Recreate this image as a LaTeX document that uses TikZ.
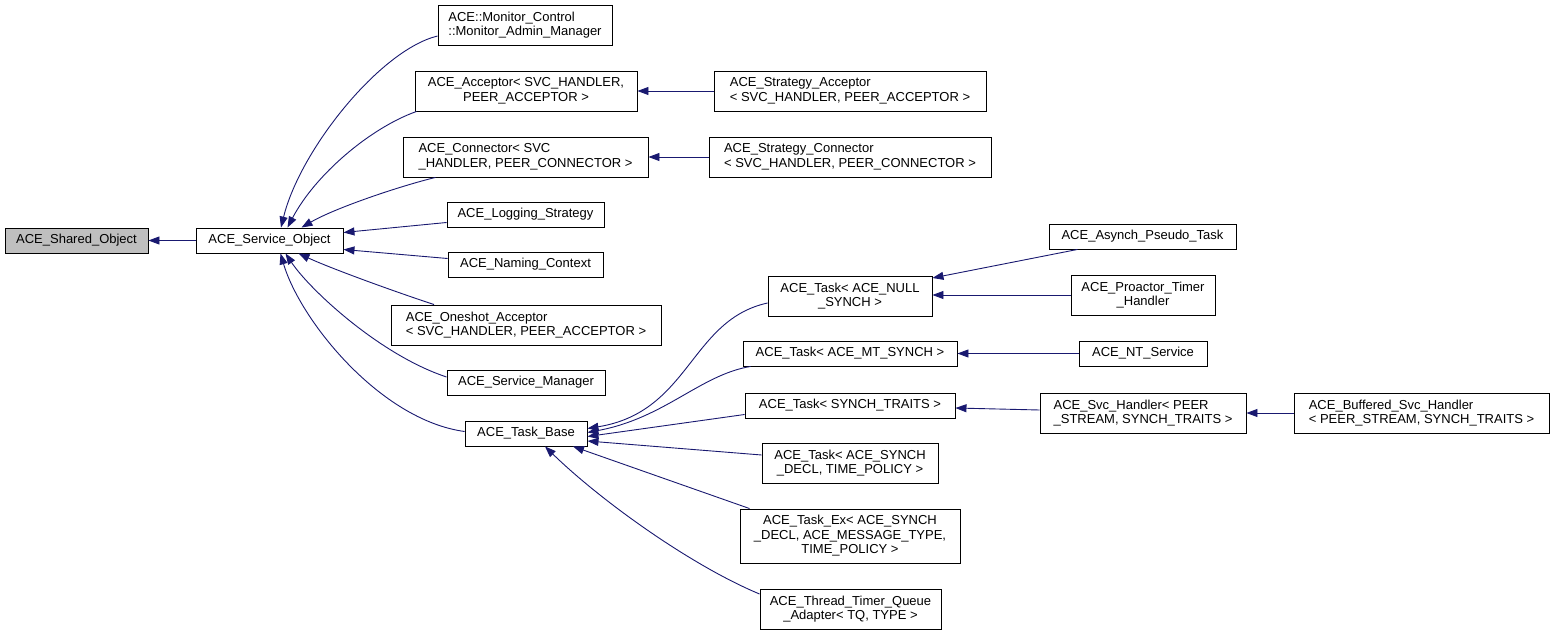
\documentclass[tikz,border=0pt]{standalone}
\usepackage{fontspec}
\setmainfont{Liberation Sans}
\usetikzlibrary{arrows.meta,calc}
\definecolor{edgeblue}{RGB}{25,25,112}
\definecolor{basegray}{RGB}{191,191,191}
\begin{document}
\begin{tikzpicture}[x=1pt,y=-1pt,
  box/.style={draw=black,line width=0.9pt,fill=white,inner xsep=2pt,inner ysep=1pt,
    font=\fontsize{13}{14.5}\selectfont,align=center},
  lbox/.style={box,align=left},
  edge/.style={draw=edgeblue,line width=0.9pt,-{Triangle[length=11pt,width=8pt]}}]
\useasboundingbox (0,0) rectangle (1555,636);
% nodes
\node[box,fill=basegray,minimum width=143,minimum height=25] (shared) at (76.5,240.5) {ACE\_Shared\_Object};
\node[box,minimum width=147,minimum height=25] (svc) at (269.5,240.5) {ACE\_Service\_Object};
\node[lbox,minimum width=174,minimum height=40] (mon) at (525,25) {ACE::Monitor\_Control\\::Monitor\_Admin\_Manager};
\node[box,minimum width=222,minimum height=40] (acc) at (526,91) {ACE\_Acceptor< SVC\_HANDLER,\\PEER\_ACCEPTOR >};
\node[lbox,minimum width=245,minimum height=40] (con) at (525.5,157) {ACE\_Connector< SVC\\\_HANDLER, PEER\_CONNECTOR >};
\node[box,minimum width=157,minimum height=25] (log) at (525.5,214.5) {ACE\_Logging\_Strategy};
\node[box,minimum width=155,minimum height=25] (nam) at (525.5,264.5) {ACE\_Naming\_Context};
\node[lbox,minimum width=270,minimum height=40] (one) at (526,325) {ACE\_Oneshot\_Acceptor\\< SVC\_HANDLER, PEER\_ACCEPTOR >};
\node[box,minimum width=158,minimum height=25] (mgr) at (526,382.5) {ACE\_Service\_Manager};
\node[box,minimum width=122,minimum height=25] (tb) at (526,433.5) {ACE\_Task\_Base};
\node[lbox,minimum width=272,minimum height=40] (sacc) at (850,91) {ACE\_Strategy\_Acceptor\\< SVC\_HANDLER, PEER\_ACCEPTOR >};
\node[lbox,minimum width=282,minimum height=40] (scon) at (850,157) {ACE\_Strategy\_Connector\\< SVC\_HANDLER, PEER\_CONNECTOR >};
\node[box,minimum width=164,minimum height=40] (null) at (850,296) {ACE\_Task< ACE\_NULL\\\_SYNCH >};
\node[box,minimum width=214,minimum height=25] (mt) at (850,353.5) {ACE\_Task< ACE\_MT\_SYNCH >};
\node[box,minimum width=210,minimum height=25] (st) at (850,405.5) {ACE\_Task< SYNCH\_TRAITS >};
\node[box,minimum width=176,minimum height=40] (decl) at (850,463) {ACE\_Task< ACE\_SYNCH\\\_DECL, TIME\_POLICY >};
\node[box,minimum width=220,minimum height=54] (ex) at (850,536) {ACE\_Task\_Ex< ACE\_SYNCH\\\_DECL, ACE\_MESSAGE\_TYPE,\\TIME\_POLICY >};
\node[box,minimum width=181,minimum height=40] (tq) at (850.5,609) {ACE\_Thread\_Timer\_Queue\\\_Adapter< TQ, TYPE >};
\node[box,minimum width=187,minimum height=25] (async) at (1142.5,236.5) {ACE\_Asynch\_Pseudo\_Task};
\node[box,minimum width=144,minimum height=40] (pro) at (1143,295) {ACE\_Proactor\_Timer\\\_Handler};
\node[box,minimum width=128,minimum height=25] (nt) at (1143,353.5) {ACE\_NT\_Service};
\node[lbox,minimum width=206,minimum height=40] (svch) at (1143,413) {ACE\_Svc\_Handler< PEER\\\_STREAM, SYNCH\_TRAITS >};
\node[lbox,minimum width=255,minimum height=40] (buf) at (1421.5,413) {ACE\_Buffered\_Svc\_Handler\\< PEER\_STREAM, SYNCH\_TRAITS >};
% edges
\draw[edge] (svc.west) -- (shared.east);
\draw[edge] ($(mon.west)+(0,11)$) .. controls (380,50) and (300,150) .. ($(svc.north)+(11.5,0)$);
\draw[edge] ($(acc.south west)+(2,0)$) .. controls (370,128) and (315,175) .. ($(svc.north)+(18,0)$);
\draw[edge] ($(con.south)+(-90,0)$) .. controls (400,186) and (335,208) .. ($(svc.north)+(32,0)$);
\draw[edge] ($(log.west)+(0,8)$) -- ($(svc.east)+(0,-8)$);
\draw[edge] ($(nam.west)+(0,-6)$) -- ($(svc.east)+(0,9)$);
\draw[edge] ($(one.north)+(-92,0)$) .. controls (390,290) and (330,268) .. ($(svc.south)+(29,0)$);
\draw[edge] ($(mgr.west)+(0,-5.5)$) .. controls (380,355) and (310,290) .. ($(svc.south)+(16,0)$);
\draw[edge] ($(tb.west)+(0,-2)$) .. controls (380,420) and (300,320) .. ($(svc.south)+(11,0)$);
\draw[edge] (sacc.west) -- (acc.east);
\draw[edge] (scon.west) -- (con.east);
\draw[edge] ($(null.west)+(0,7)$) .. controls (690,320) and (690,412) .. ($(tb.east)+(0,-5)$);
\draw[edge] ($(mt.south west)+(8,0)$) .. controls (700,375) and (665,418) .. ($(tb.east)+(0,-1)$);
\draw[edge] ($(st.west)+(0,9)$) -- ($(tb.east)+(0,3)$);
\draw[edge] ($(decl.west)+(0,-8)$) -- ($(tb.east)+(0,7.5)$);
\draw[edge] ($(ex.north west)+(10,0)$) -- ($(tb.south)+(47,0)$);
\draw[edge] ($(tq.west)+(0,-15)$) .. controls (690,565) and (600,500) .. ($(tb.south)+(19,0)$);
\draw[edge] ($(async.south)+(-65,0)$) -- ($(null.east)+(0,-18)$);
\draw[edge] (pro.west) -- (pro.west -| null.east);
\draw[edge] (nt.west) -- (mt.east);
\draw[edge] ($(svch.west)+(0,-3)$) -- ($(st.east)+(0,2.5)$);
\draw[edge] (buf.west) -- (svch.east);
\end{tikzpicture}
\end{document}
